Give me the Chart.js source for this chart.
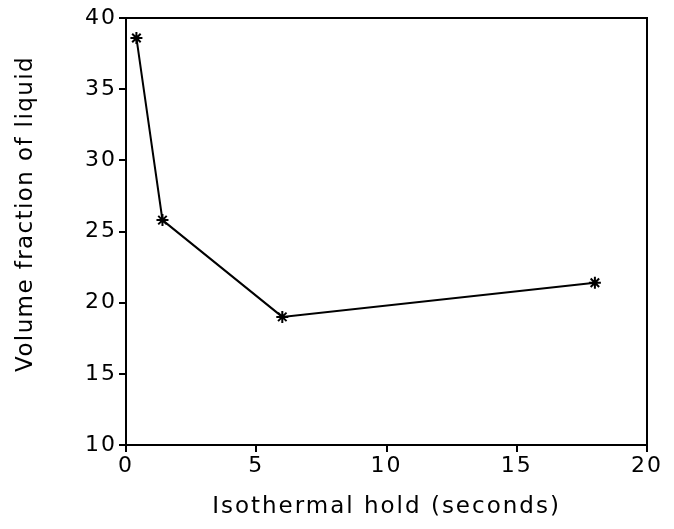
<!DOCTYPE html>
<html>
<head>
<meta charset="utf-8">
<script src="https://cdn.jsdelivr.net/npm/chart.js@4/dist/chart.umd.min.js"></script>
<style>
  html, body { margin: 0; padding: 0; background: #fff; }
  #wrap { width: 674px; height: 529px; }
</style>
</head>
<body>
<div id="wrap"><canvas id="liquidChart"></canvas></div>
<script>
// data
const holdSeconds = [0.4, 1.4, 6, 18];
const liquidFraction = [38.6, 25.8, 19.0, 21.4];
const xTicks = [0, 5, 10, 15, 20];
const yTicks = [10, 15, 20, 25, 30, 35, 40];
const yLabel = 'Volume fraction of liquid';

const font = "'DejaVu Sans', sans-serif";

// wide lettering like the original, the full frame box, and the y title
// (drawn here because it sits a bit above the middle of the axis)
const frameBox = {
  id: 'frameBox',
  beforeDraw(chart) {
    chart.ctx.letterSpacing = '2px';
  },
  afterDraw(chart) {
    const a = chart.chartArea;
    const c = chart.ctx;
    c.save();
    c.strokeStyle = '#000';
    c.lineWidth = 2;
    c.strokeRect(a.left, a.top, a.right - a.left, a.bottom - a.top);
    c.restore();

    c.save();
    c.letterSpacing = '1.4px';
    c.fillStyle = '#000';
    c.font = '23px ' + font;
    c.textAlign = 'center';
    c.textBaseline = 'middle';
    c.translate(26, 214);
    c.rotate(-Math.PI / 2);
    c.fillText(yLabel, 0, 0);
    c.restore();
  }
};

const ctx = document.getElementById('liquidChart').getContext('2d');
new Chart(ctx, {
  type: 'scatter',
  data: {
    datasets: [{
      data: holdSeconds.map((x, i) => ({ x: x, y: liquidFraction[i] })),
      showLine: true,
      borderColor: '#000',
      backgroundColor: '#000',
      borderWidth: 2,
      pointStyle: 'star',
      pointRadius: 6,
      pointBorderWidth: 2,
      pointBorderColor: '#000',
      tension: 0
    }]
  },
  options: {
    responsive: true,
    maintainAspectRatio: false,
    animation: false,
    layout: { padding: { top: 18, right: 27, left: 0, bottom: 0 } },
    plugins: { legend: { display: false }, tooltip: { enabled: false } },
    scales: {
      x: {
        type: 'linear',
        min: 0, max: 20,
        afterBuildTicks: s => { s.ticks = xTicks.map(v => ({ value: v })); },
        afterFit: s => { s.height = 84; },
        border: { display: true, color: '#000', width: 2 },
        grid: { display: true, drawOnChartArea: false, drawTicks: true, tickLength: 7, color: '#000', lineWidth: 2 },
        ticks: { color: '#000', font: { family: font, size: 22 }, padding: 1, maxRotation: 0 },
        title: { display: true, text: 'Isothermal hold (seconds)', color: '#000',
                 font: { family: font, size: 23 }, padding: { top: 14, bottom: 8 } }
      },
      y: {
        type: 'linear',
        min: 10, max: 40,
        afterBuildTicks: s => { s.ticks = yTicks.map(v => ({ value: v })); },
        afterFit: s => { s.width = 126; },
        border: { display: true, color: '#000', width: 2 },
        grid: { display: true, drawOnChartArea: false, drawTicks: true, tickLength: 7, color: '#000', lineWidth: 2 },
        ticks: { color: '#000', font: { family: font, size: 22 }, padding: 2 },
        title: { display: false }
      }
    }
  },
  plugins: [frameBox]
});
</script>
</body>
</html>
